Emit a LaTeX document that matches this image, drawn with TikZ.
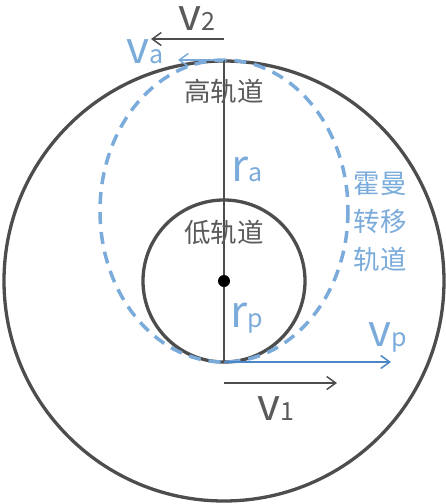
\documentclass[tikz,border=0pt]{standalone}
\usepackage{fontspec}
\setmainfont{Noto Sans CJK SC}
\usetikzlibrary{arrows.meta, positioning}
\definecolor{orbitgray}{HTML}{4D4D4D}
\definecolor{textgray}{HTML}{5A5A5A}
\definecolor{hohblue}{HTML}{7AABDB}
\definecolor{velblue}{HTML}{4A86C8}
\tikzset{
    orbit/.style={draw=orbitgray, line width=3.3pt},
    transfer/.style={draw=hohblue, line width=3.5pt, dash pattern=on 12pt off 8pt},
    vel/.style={line width=1.5pt, -{Straight Barb[length=9pt, width=13pt, line width=1.5pt]}},
    cnlabel/.style={text=textgray, font=\fontsize{26.5}{30}\selectfont, inner sep=0pt},
    symlabel/.style={font=\fontsize{44}{48}\selectfont, inner sep=0pt}
}
\newcommand{\sublbl}[1]{{\fontsize{25}{28}\selectfont #1}}
\begin{document}
\begin{tikzpicture}[x=1pt, y=-1pt]
    \useasboundingbox (0,0) rectangle (446,504);
    % Centres and apsides
    \coordinate (O) at (224,281);
    \coordinate (apo) at (224,60);
    \coordinate (peri) at (224,362);

    % Orbits
    \draw[orbit] (O) circle[radius=220];
    \draw[orbit] (O) circle[radius=81];
    \draw[transfer] (224,211) ellipse[x radius=124, y radius=151];

    % Radius line and centre
    \draw[orbitgray, line width=1.5pt] (apo) -- (peri);
    \fill[black] (O) circle[radius=6];

    % Velocities
    \coordinate (v2s) at (224,39);
    \coordinate (v2e) at (151,39);
    \draw[vel, orbitgray] (v2s) -- (v2e);
    \coordinate (vae) at (178,60);
    \draw[vel, hohblue] (apo) -- (vae);
    \coordinate (vpe) at (391,362);
    \draw[vel, velblue] (peri) -- (vpe);
    \coordinate (v1s) at (224,383);
    \coordinate (v1e) at (337,383);
    \draw[vel, orbitgray] (v1s) -- (v1e);

    % Labels
    \node[symlabel, text=textgray] (lv2) at (197,18.5) {v\sublbl{2}};
    \node[symlabel, text=hohblue] (lva) at (145,52) {v\sublbl{a}};
    \node[symlabel, text=hohblue] (lvp) at (388,337) {v\sublbl{p}};
    \node[symlabel, text=textgray] (lv1) at (276,409) {v\sublbl{1}};
    \node[symlabel, text=hohblue] (lra) at (247,169) {r\sublbl{a}};
    \node[symlabel, text=hohblue] (lrp) at (247,318) {r\sublbl{p}};
    \node[cnlabel] (high) at (224,91) {高轨道};
    \node[cnlabel] (low) at (224,232) {低轨道};
    \node[cnlabel, text=hohblue, align=center, font=\fontsize{26.5}{38}\selectfont] (hohmann) at (380,222) {霍曼\\转移\\轨道};
\end{tikzpicture}
\end{document}
